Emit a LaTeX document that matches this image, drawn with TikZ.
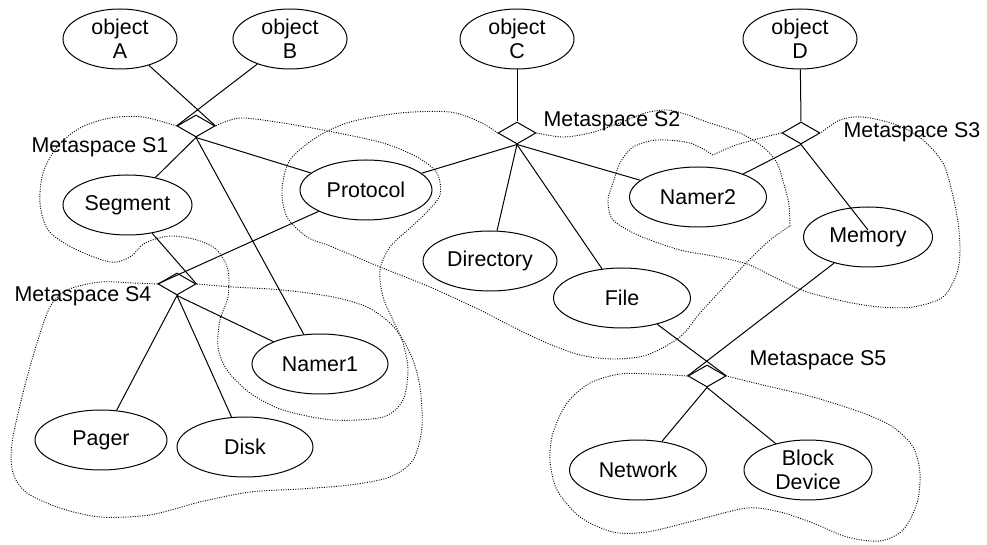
\documentclass[tikz,border=0pt]{standalone}
\usepackage{fontspec}
\setmainfont{Liberation Sans}
\usetikzlibrary{shapes.geometric}
\begin{document}
\begin{tikzpicture}[x=0.5pt,y=-0.5pt,
  every node/.style={font=\fontsize{10.7}{12}\selectfont},
  obj/.style={draw, ellipse, line width=0.5pt, inner sep=0pt, minimum height=30pt, align=center},
  joint/.style={draw, diamond, line width=0.5pt, inner sep=0pt, minimum width=19pt, minimum height=11pt},
  link/.style={line width=0.5pt},
  blob/.style={line width=0.45pt, dash pattern=on 0.5pt off 0.7pt},
  tag/.style={inner sep=0pt}]
\useasboundingbox (0,0) rectangle (987,545);

% objects
\node[obj, minimum width=57pt] (objA) at (120,39) {object\\A};
\node[obj, minimum width=57pt] (objB) at (290,39) {object\\B};
\node[obj, minimum width=57pt] (objC) at (517,39) {object\\C};
\node[obj, minimum width=57pt] (objD) at (800,39) {object\\D};

% meta-objects
\node[obj, minimum width=64.5pt] (seg)    at (127.5,205) {Segment};
\node[obj, minimum width=66pt]   (proto)  at (366,190)   {Protocol};
\node[obj, minimum width=68pt]   (namer1) at (320,364)   {Namer1};
\node[obj, minimum width=66pt]   (pager)  at (101,440)   {Pager};
\node[obj, minimum width=68pt]   (disk)   at (245,447)   {Disk};
\node[obj, minimum width=67pt]   (dir)    at (490,261)   {Directory};
\node[obj, minimum width=68.5pt] (namer2) at (698,197)   {Namer2};
\node[obj, minimum width=68.5pt] (file)   at (622,298)   {File};
\node[obj, minimum width=64.5pt] (mem)    at (868,237)   {Memory};
\node[obj, minimum width=68.5pt] (net)    at (638,470)   {Network};
\node[obj, minimum width=64pt]   (block)  at (808,470)   {Block\\Device};

% metaspace joints
\node[joint] (s1) at (196,126) {};
\node[joint] (s2) at (517,133) {};
\node[joint] (s3) at (801,133) {};
\node[joint] (s4) at (177,284) {};
\node[joint] (s5) at (707,376) {};

% metaspace labels
\node[tag] (lab1) at (100,147) {Metaspace S1};
\node[tag] (lab2) at (612,121) {Metaspace S2};
\node[tag] (lab3) at (912,132) {Metaspace S3};
\node[tag] (lab4) at (83,296)  {Metaspace S4};
\node[tag] (lab5) at (818,360) {Metaspace S5};

% connectors
\draw[link] (objA) -- (s1.east);
\draw[link] (objB) -- (s1.west);
\draw[link] (s1.south) -- (seg);
\draw[link] (s1.south) -- (proto);
\draw[link] (s1.south) -- (namer1);

\draw[link] (objC) -- (s2.north);
\draw[link] (s2.south) -- (proto);
\draw[link] (s2.south) -- (namer2);
\draw[link] (s2.south) -- (dir);
\draw[link] (s2.south) -- (file);

\draw[link] (objD) -- (s3.north);
\draw[link] (s3.south) -- (namer2);
\draw[link] (s3.south) -- ([yshift=3.5pt]mem.center);

\draw[link] (seg) -- (s4.east);
\draw[link] (proto) -- (s4.west);
\draw[link] (s4.south) -- (pager);
\draw[link] (s4.south) -- (disk);
\draw[link] (s4.south) -- (namer1);

\draw[link] (file) -- (s5.east);
\draw[link] (mem) -- (s5.west);
\draw[link] (s5.south) -- (net);
\draw[link] (s5.south) -- (block);

% metaspace boundaries
\draw[blob] plot[smooth] coordinates {(s1.west) (143,117) (110,118) (80,128) (57,147) (43,173) (40,203) (48,230) (73,248) (110,262) (130,257) (145,243) (170,236) (197,240) (217,250) (228,270) (228,297) (220,320) (218,347) (227,370) (250,393) (283,410) (333,420) (383,417) (403,400) (408,370) (403,343) (393,320) (383,297) (380,270) (390,247) (410,228) (426,213) (440,195) (437,173) (417,157) (383,143) (333,132) (283,123) (240,118) (s1.east)};

\draw[blob] plot[smooth] coordinates {(s2.west) (480,122) (450,112) (400,113) (350,122) (317,137) (290,160) (282,190) (287,217) (307,237) (330,246) (380,267) (430,287) (480,310) (513,327) (547,343) (580,355) (613,359) (647,355) (680,337) (700,313) (723,288) (747,262) (770,240) (790,226)};
\draw[blob] plot[smooth] coordinates {(790,226) (789,205) (785,188) (777,163) (763,147) (740,133) (707,122) (685,114) (667,110) (645,113) (617,124) (590,133) (563,137) (s2.east)};

\draw[blob] plot[smooth] coordinates {(s3.west) (757,139) (733,146) (713,155)};
\draw[blob] plot[smooth] coordinates {(713,155) (690,143) (657,140) (633,147) (620,163) (613,183) (608,200) (613,220) (640,236) (680,250) (713,256) (747,264) (780,280) (807,292) (847,302) (880,307) (913,307) (943,297) (957,273) (960,250) (958,222) (952,192) (943,163) (923,140) (897,125) (863,117) (840,120) (s3.east)};

\draw[blob] plot[smooth] coordinates {(s4.west) (133,283) (100,282) (67,290) (50,307) (37,343) (23,393) (12,443) (13,473) (27,493) (60,508) (100,517) (150,515) (200,502) (250,492) (300,489) (350,485) (390,477) (413,460) (422,427) (420,387) (413,360) (403,340) (390,323) (367,307) (333,297) (283,290) (233,287) (s4.east)};

\draw[blob] plot[smooth] coordinates {(s5.west) (653,374) (620,374) (590,383) (567,403) (553,433) (550,460) (557,490) (580,517) (613,532) (647,532) (697,520) (747,508) (780,512) (813,523) (847,537) (880,541) (903,530) (917,503) (920,473) (913,447) (893,427) (863,413) (813,397) (763,385) (s5.east)};
\end{tikzpicture}
\end{document}
